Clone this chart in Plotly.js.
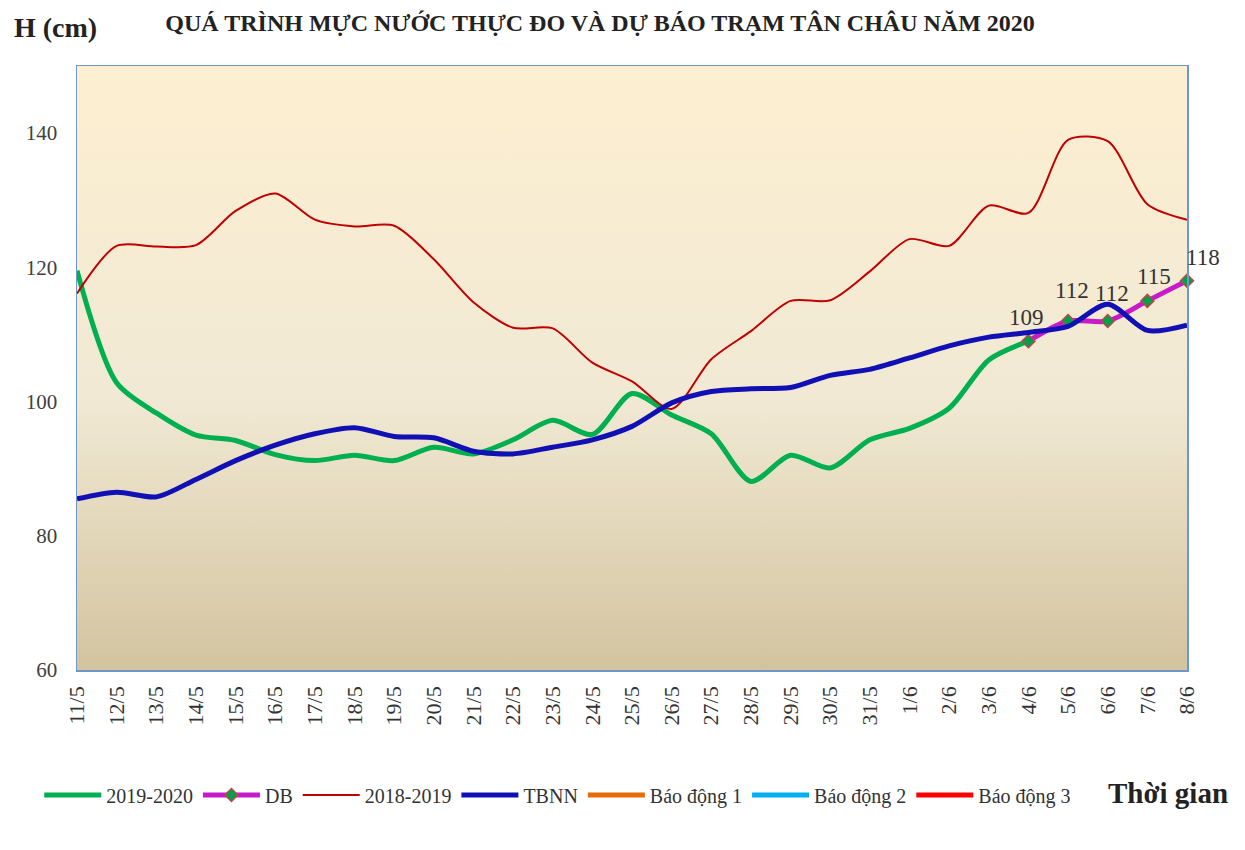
<!DOCTYPE html>
<html>
<head>
<meta charset="utf-8">
<script src="https://cdn.plot.ly/plotly-3.0.1.min.js"></script>
<style>
  html, body { margin: 0; padding: 0; background: #ffffff; }
  #chart { width: 1245px; height: 850px; }
</style>
</head>
<body>
<div id="chart"></div>
<script>
const categories = ['11/5','12/5','13/5','14/5','15/5','16/5','17/5','18/5','19/5','20/5',
  '21/5','22/5','23/5','24/5','25/5','26/5','27/5','28/5','29/5','30/5',
  '31/5','1/6','2/6','3/6','4/6','5/6','6/6','7/6','8/6'];

const s2019_2020 = [119.5, 102.8, 98.3, 95, 94.2, 92.1, 91.2, 92, 91.2, 93.2,
  92.2, 94.3, 97.2, 95.1, 101.2, 98, 95.2, 88.1, 92, 90.1,
  94.3, 96, 99, 106.2, 109];

const dbCats = ['4/6','5/6','6/6','7/6','8/6'];
const dbValues = [109, 112, 112, 115, 118];
const dbLabels = ['109','112','112','115','118'];

const s2018_2019 = [116.1, 123.2, 123.1, 123.3, 128.4, 131, 127.1, 126.1, 126.2, 121.2,
  114.8, 111, 110.9, 105.8, 103, 98.9, 106.3, 110.5, 115, 115.1,
  119.4, 124.2, 123.2, 129.2, 128.1, 139, 138.8, 129.4, 127.1];

const tbnn = [85.5, 86.5, 85.8, 88.4, 91.2, 93.5, 95.2, 96.1, 94.8, 94.6,
  92.6, 92.2, 93.2, 94.3, 96.3, 99.8, 101.5, 101.9, 102.1, 103.9,
  104.8, 106.5, 108.3, 109.6, 110.3, 111.2, 114.5, 110.6, 111.4];

const alarmNames = ['Báo động 1', 'Báo động 2', 'Báo động 3'];
const alarmLevels = [350, 400, 450];

const serif = '"Liberation Serif", "Times New Roman", serif';

const traces = [
  {
    x: categories.slice(0, s2019_2020.length), y: s2019_2020, name: '2019-2020',
    type: 'scatter', mode: 'lines',
    line: {color: '#00B050', width: 5, shape: 'spline', smoothing: 0.8}
  },
  {
    x: dbCats, y: dbValues, name: 'DB',
    type: 'scatter', mode: 'lines+markers', cliponaxis: false,
    line: {color: '#C71BC7', width: 5, shape: 'spline', smoothing: 0.8},
    marker: {symbol: 'diamond', size: 10, color: '#00A04A', line: {color: '#B8484A', width: 1.5}}
  },
  {
    x: categories, y: s2018_2019, name: '2018-2019',
    type: 'scatter', mode: 'lines',
    line: {color: '#C00000', width: 2, shape: 'spline', smoothing: 0.8}
  },
  {
    x: categories, y: tbnn, name: 'TBNN',
    type: 'scatter', mode: 'lines',
    line: {color: '#1010B4', width: 5, shape: 'spline', smoothing: 0.8}
  }
];
const alarmColors = ['#E46C0A', '#00B0F0', '#FF0000'];
alarmNames.forEach((nm, i) => {
  traces.push({
    x: categories, y: categories.map(() => alarmLevels[i]), name: nm,
    type: 'scatter', mode: 'lines',
    line: {color: alarmColors[i], width: 5}
  });
});

const svg = "<svg xmlns='http://www.w3.org/2000/svg' width='100' height='100' preserveAspectRatio='none'>" +
  "<defs><linearGradient id='g' x1='0' y1='0' x2='0' y2='1'>" +
  "<stop offset='0' stop-color='#FDEFD1'/>" +
  "<stop offset='0.55' stop-color='#F1E9D4'/>" +
  "<stop offset='1' stop-color='#D3C49F'/>" +
  "</linearGradient></defs><rect width='100' height='100' fill='url(#g)'/></svg>";
const bgSrc = 'data:image/svg+xml;charset=utf-8,' + encodeURIComponent(svg);

// label offsets (pixels) relative to each forecast point
const dbLabelDx = [-2, 4, 4, 7, 16];
const dbLabelDy = [24, 31, 28, 24, 23];

const annotations = dbCats.map((c, i) => ({
  x: c, y: dbValues[i], xref: 'x', yref: 'y', text: dbLabels[i],
  showarrow: false, xanchor: 'center', yanchor: 'middle',
  xshift: dbLabelDx[i], yshift: dbLabelDy[i],
  font: {family: serif, size: 23, color: '#333333'}
}));

annotations.push(
  {
    text: '<b>H (cm)</b>', xref: 'paper', yref: 'paper',
    x: (12 - 77) / 1110, xanchor: 'left', y: 1 + (66 - 27) / 604, yanchor: 'middle',
    showarrow: false, font: {family: serif, size: 28, color: '#222222'}
  },
  {
    text: '<b>Thời gian</b>', xref: 'paper', yref: 'paper',
    x: (1106 - 77) / 1110, xanchor: 'left', y: -(793 - 670) / 604, yanchor: 'middle',
    showarrow: false, font: {family: serif, size: 29, color: '#222222'}
  }
);

const layout = {
  width: 1245, height: 850,
  margin: {l: 77, r: 58, t: 66, b: 180},
  paper_bgcolor: '#ffffff',
  plot_bgcolor: 'rgba(0,0,0,0)',
  showlegend: true,
  font: {family: serif, color: '#404040'},
  title: {
    text: '<b>QUÁ TRÌNH MỰC NƯỚC THỰC ĐO VÀ DỰ BÁO TRẠM TÂN CHÂU NĂM 2020</b>',
    font: {family: serif, size: 24, color: '#222222'},
    xref: 'container', x: 0.482, xanchor: 'center',
    yref: 'container', y: 0.974, yanchor: 'middle'
  },
  xaxis: {
    type: 'category', categoryorder: 'array', categoryarray: categories,
    range: [0, 28], showgrid: false, zeroline: false,
    showline: true, mirror: true, linecolor: '#7097CA', linewidth: 1.5,
    ticks: '', tickangle: -90, ticklabelstandoff: 6,
    tickfont: {family: serif, size: 22, color: '#333333'}
  },
  yaxis: {
    range: [60, 150], tickvals: [60, 80, 100, 120, 140], showgrid: false, zeroline: false,
    showline: true, mirror: true, linecolor: '#7097CA', linewidth: 1.5,
    ticks: '', ticklabelstandoff: 14,
    tickfont: {family: serif, size: 21, color: '#404040'}
  },
  legend: {
    orientation: 'h', x: -0.034, xanchor: 'left', xref: 'paper',
    y: -0.207, yanchor: 'middle', yref: 'paper',
    font: {family: serif, size: 20, color: '#333333'},
    itemwidth: 57, bgcolor: 'rgba(0,0,0,0)', traceorder: 'normal'
  },
  images: [{
    source: bgSrc, xref: 'paper', yref: 'paper', x: 0, y: 1, sizex: 1, sizey: 1,
    xanchor: 'left', yanchor: 'top', sizing: 'stretch', layer: 'below'
  }],
  annotations: annotations
};

Plotly.newPlot('chart', traces, layout, {displayModeBar: false, staticPlot: true});
</script>
</body>
</html>
